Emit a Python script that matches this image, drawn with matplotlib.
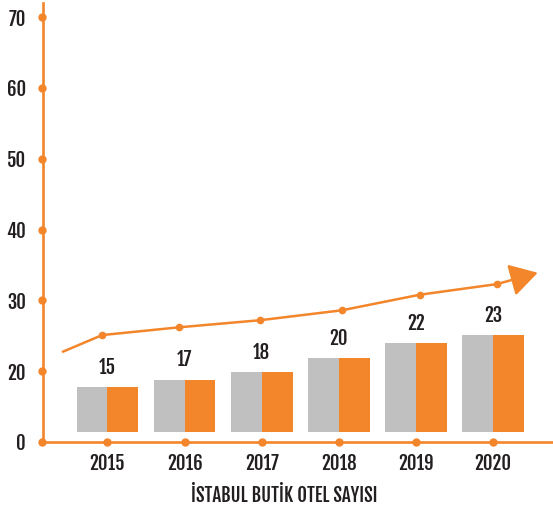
import matplotlib.pyplot as plt

# data (bar heights / line in axis units, labels as printed)
years = ['2015', '2016', '2017', '2018', '2019', '2020']
values = [15, 17, 18, 20, 22, 23]
bar_tops = [7.8, 8.8, 9.9, 11.9, 14.0, 15.1]
bar_base = 1.4
ytick_pos = [0, 10, 20, 30, 40, 50, 60]
ytick_lab = ['0', '20', '30', '40', '50', '60', '70']
trend_x = [-0.59, -0.07, 0.93, 1.98, 3.04, 4.05, 5.05]
trend_y = [12.7, 15.1, 16.2, 17.2, 18.6, 20.8, 22.3]
arrow_tip = (5.58, 23.9)

orange = '#f3862b'
gray = '#c1c0c1'
dark = '#231f20'
plt.rcParams['font.family'] = ['Fjalla One', 'Oswald', 'DejaVu Sans']

fig = plt.figure(figsize=(5.53, 5.09), dpi=100)
ax = fig.add_axes([42.5/553, 67/509, 1 - 42.5/553, 439/509])
ax.set_xlim(-0.843, 5.778)
ax.set_ylim(0, 62.0)

x = list(range(len(years)))
heights = [t - bar_base for t in bar_tops]
ax.bar([i - 0.4 for i in x], heights, 0.4, bottom=bar_base, align='edge', color=gray)
ax.bar(x, heights, 0.4, bottom=bar_base, align='edge', color=orange)

for i, v in enumerate(values):
    ax.annotate(str(v), (i, bar_tops[i]), xytext=(0, 9.5), textcoords='offset points',
                ha='center', va='baseline', fontsize=13.5, color=dark)

# trend line with arrow
ax.plot(trend_x, trend_y, color=orange, lw=1.8, solid_capstyle='butt')
ax.plot(trend_x[1:], trend_y[1:], 'o', color=orange, ms=4.5)
ax.annotate('', xy=arrow_tip, xytext=(trend_x[-1], trend_y[-1]),
            arrowprops=dict(arrowstyle='-|>,head_length=0.85,head_width=0.5',
                            color=orange, lw=1.8, mutation_scale=20, shrinkA=0, shrinkB=0))

# axes
for s in ['top', 'right']:
    ax.spines[s].set_visible(False)
for s in ['left', 'bottom']:
    ax.spines[s].set_color(orange)
    ax.spines[s].set_linewidth(1.9)
ax.set_yticks(ytick_pos)
ax.set_yticklabels(ytick_lab)
ax.set_xticks(x)
ax.set_xticklabels(years)
ax.tick_params(axis='y', length=0, pad=12, labelsize=13.5, labelcolor=dark)
ax.tick_params(axis='x', length=0, pad=8, labelsize=13.5, labelcolor=dark)
ax.plot([-0.843] * len(ytick_pos), ytick_pos, 'o', color=orange, ms=5, clip_on=False)
ax.plot(x, [0] * len(x), 'o', color=orange, ms=5, clip_on=False)

fig.text(284/553, 13/509, 'İSTABUL BUTİK OTEL SAYISI', ha='center', va='center',
         fontsize=13.5, color=dark)

fig.savefig('out.png', dpi=100)
